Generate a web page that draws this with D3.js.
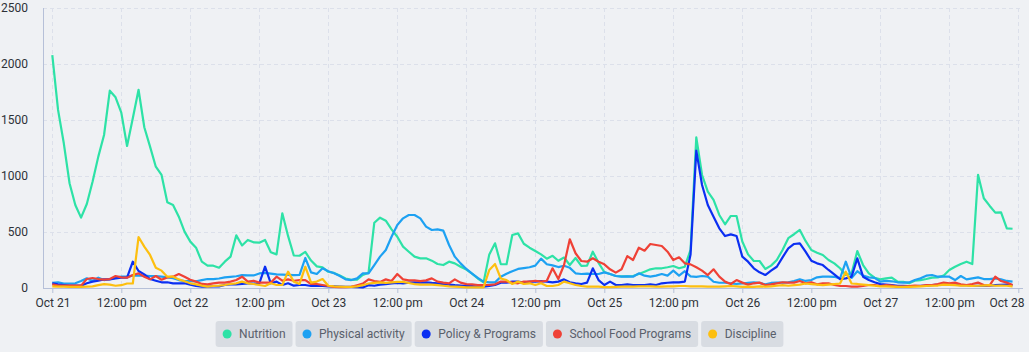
<!DOCTYPE html>
<html><head><meta charset="utf-8">
<script src="https://cdn.jsdelivr.net/npm/d3@7"></script>
<style>
html,body{margin:0;padding:0;background:#eff1f4;}
svg{display:block;font-family:Roboto,"Noto Sans",sans-serif;}
</style></head><body>
<svg id="chart" width="1029" height="352"></svg>
<script>
const seriesNames = ["Nutrition", "Physical activity", "Policy & Programs", "School Food Programs", "Discipline"];
const seriesColors = ["#2de2a6", "#1da1f2", "#0b2ff2", "#ef4136", "#fdbf0f"];

const nutrition = [
 2080,1590,1292,935,741,628,750,949,1173,1366,1762,1703,1566,1268,1515,1770,1435,1262,1083,1009,765,741,637,503,
 414,360,235,199,199,181,235,280,470,380,429,408,405,429,319,300,667,465,290,288,322,245,193,184,
 145,135,112,85,72,75,116,137,583,628,601,524,458,369,324,280,265,265,244,214,205,235,220,190,
 165,128,85,50,300,399,212,212,473,488,395,360,330,300,262,287,243,272,205,268,198,200,324,225,
 143,125,107,104,104,107,125,146,167,176,176,185,196,176,190,340,1345,1009,860,786,652,569,643,643,
 415,300,241,241,170,200,250,339,445,480,518,420,339,315,295,250,220,176,116,130,330,205,131,92,
 77,86,92,56,55,42,65,71,80,92,95,110,161,190,214,235,214,1010,801,735,673,675,533,529];
const physicalActivity = [
 47,51,40,40,42,62,87,62,92,71,78,92,101,101,110,110,110,107,107,101,95,87,71,62,
 62,60,70,80,80,85,95,100,105,115,112,112,130,135,128,122,120,117,115,118,268,140,125,176,
 150,131,107,77,71,86,131,131,205,280,339,458,563,622,652,652,622,548,518,524,512,384,280,220,
 170,128,90,57,50,50,101,128,150,170,178,185,200,262,212,202,187,199,180,131,125,128,125,125,
 140,125,107,101,104,101,131,110,101,110,125,110,155,110,150,104,100,107,101,56,47,47,42,36,
 40,45,51,45,33,45,48,48,50,63,78,63,71,95,101,101,100,86,235,90,150,110,95,90,
 57,63,60,51,48,50,71,86,110,116,101,101,101,71,107,77,86,95,80,80,86,77,63,57];
const policyPrograms = [
 42,33,27,21,21,21,42,57,65,77,77,86,92,92,235,152,122,80,65,51,51,42,42,42,
 30,18,12,12,15,15,27,33,33,36,42,40,42,190,42,57,27,42,21,27,27,18,18,18,
 15,15,12,10,10,8,5,25,20,30,35,40,45,42,48,50,48,50,45,42,35,30,25,22,
 18,18,12,12,18,27,48,48,57,57,48,57,57,62,57,51,57,77,51,42,36,48,176,71,
 27,57,27,27,33,27,27,27,33,27,42,47,51,51,57,300,1226,920,741,637,533,464,479,464,
 280,235,176,140,116,155,190,274,354,393,399,324,244,220,205,161,122,80,86,101,265,101,71,51,
 35,30,25,20,20,18,18,20,22,25,30,40,35,30,25,25,20,20,18,20,25,28,30,25];
const schoolFood = [
 33,21,21,21,21,21,80,89,80,74,80,107,95,92,116,131,101,77,107,74,95,101,125,101,
 74,57,36,33,42,48,48,57,71,101,57,65,48,48,48,101,65,77,65,71,71,36,36,27,
 18,10,8,8,10,24,39,77,62,54,77,62,125,77,68,68,62,68,86,57,48,42,77,48,
 35,33,27,27,27,33,57,57,48,42,57,57,65,57,65,176,80,205,435,310,241,235,265,235,
 211,167,137,167,285,250,360,333,393,384,375,324,250,274,220,211,185,155,116,167,101,57,36,71,
 48,30,42,48,27,33,42,51,48,48,62,42,51,33,42,42,27,18,18,12,12,18,27,27,
 18,27,22,12,12,18,22,18,27,27,36,48,42,48,33,27,36,48,27,21,101,62,48,27];
const discipline = [
 15,12,12,10,10,10,12,15,25,35,30,20,25,40,40,455,370,295,181,155,101,101,77,60,
 42,33,21,12,18,21,27,36,42,57,42,36,27,18,42,27,27,146,57,36,190,48,57,80,
 20,15,12,10,10,15,25,40,45,50,45,50,55,55,45,35,30,30,30,25,20,15,12,10,
 6,6,6,6,161,214,85,71,36,57,36,42,27,42,18,18,27,57,42,27,18,12,12,12,
 8,8,10,12,12,12,15,15,15,12,12,15,15,18,18,15,15,15,12,12,12,15,18,15,
 10,12,10,15,12,15,20,25,20,25,30,40,35,30,25,30,35,40,146,40,36,30,25,20,
 15,15,12,10,10,10,12,15,18,20,22,30,28,25,20,20,18,20,22,25,20,22,20,15];

const yTickValues = [0, 500, 1000, 1500, 2000, 2500];
const xTickLabels = ["Oct 21","12:00 pm","Oct 22","12:00 pm","Oct 23","12:00 pm","Oct 24","12:00 pm",
                     "Oct 25","12:00 pm","Oct 26","12:00 pm","Oct 27","12:00 pm","Oct 28"];
const startDate = new Date(2024, 9, 21, 0, 0, 0);
const endDate = new Date(2024, 9, 28, 0, 0, 0);

const allSeries = [nutrition, physicalActivity, policyPrograms, schoolFood, discipline];

const svg = d3.select("#chart");
const W = 1029, H = 352;
const axisLeftX = 43, axisRightX = 1023, plotTop = 8, plotBottom = 288;

const x = d3.scaleTime().domain([startDate, endDate]).range([52.3, 1018.3]);
const y = d3.scaleLinear().domain([0, 2500]).range([plotBottom, plotTop]);

const xTicks = d3.timeHour.every(12).range(startDate, d3.timeHour.offset(endDate, 1));

// grid
const grid = svg.append("g");
grid.selectAll("line.h").data(yTickValues.filter(v => v > 0)).join("line")
  .attr("x1", axisLeftX).attr("x2", axisRightX)
  .attr("y1", d => y(d) + 0.5).attr("y2", d => y(d) + 0.5)
  .attr("stroke", "#dce0ea").attr("stroke-dasharray", "4,3").attr("stroke-width", 1);
grid.selectAll("line.v").data(xTicks).join("line")
  .attr("x1", d => Math.round(x(d)) + 0.5).attr("x2", d => Math.round(x(d)) + 0.5)
  .attr("y1", plotTop).attr("y2", plotBottom)
  .attr("stroke", "#dce0ea").attr("stroke-dasharray", "4,3").attr("stroke-width", 1);

// axes lines
svg.append("line").attr("x1", axisLeftX + 0.5).attr("x2", axisLeftX + 0.5)
  .attr("y1", plotTop).attr("y2", plotBottom + 1).attr("stroke", "#b6c0d8");
svg.append("line").attr("x1", axisLeftX).attr("x2", axisRightX)
  .attr("y1", plotBottom + 0.5).attr("y2", plotBottom + 0.5).attr("stroke", "#b6c0d8");

// y axis
const yAxis = svg.append("g").attr("transform", `translate(${axisLeftX},0)`)
  .call(d3.axisLeft(y).tickValues(yTickValues).tickSize(0).tickPadding(15).tickFormat(d3.format("d")));
yAxis.select(".domain").remove();
yAxis.selectAll("text").attr("font-size", 12).attr("fill", "#2e3138").attr("font-family", "Roboto, sans-serif");

// x axis
const xAxis = svg.append("g").attr("transform", `translate(0,${plotBottom})`)
  .call(d3.axisBottom(x).tickValues(xTicks).tickSize(5).tickPadding(5)
    .tickFormat((d, i) => xTickLabels[i]));
xAxis.select(".domain").remove();
xAxis.selectAll(".tick line").attr("stroke", "#b6c0d8");
xAxis.selectAll("text").attr("font-size", 12).attr("fill", "#2e3138").attr("font-family", "Roboto, sans-serif");
const xTexts = xAxis.selectAll("text").nodes();
d3.select(xTexts[0]).attr("text-anchor", "start").attr("dx", 35 - x(xTicks[0]));
d3.select(xTexts[xTexts.length - 1]).attr("text-anchor", "end").attr("dx", 1024 - x(xTicks[xTicks.length - 1]));

// lines
const line = d3.line()
  .x((d, i) => x(d3.timeHour.offset(startDate, i)))
  .y(d => y(d));
svg.append("g").selectAll("path").data(allSeries).join("path")
  .attr("d", d => line(d))
  .attr("fill", "none")
  .attr("stroke", (d, i) => seriesColors[i])
  .attr("stroke-width", 2.2)
  .attr("stroke-linejoin", "round");

// legend
const legend = svg.append("g");
const chipH = 26, chipY = 321, gap = 3;
let cx = 0;
const chips = [];
seriesNames.forEach((name, i) => {
  const g = legend.append("g");
  const rect = g.append("rect").attr("y", chipY).attr("height", chipH).attr("rx", 3)
    .attr("fill", "#d8dce2");
  g.append("circle").attr("cy", chipY + chipH / 2).attr("r", 4.5).attr("fill", seriesColors[i]);
  const t = g.append("text").attr("y", chipY + chipH / 2 + 4).attr("font-size", 12)
    .attr("fill", "#5a606b").attr("font-family", "Roboto, sans-serif").text(name);
  const tw = t.node().getComputedTextLength();
  const w = 23.5 + tw + 7;
  chips.push({g, rect, t, w});
});
const totalW = d3.sum(chips, c => c.w) + gap * (chips.length - 1);
cx = 499.5 - totalW / 2;
chips.forEach(c => {
  c.rect.attr("x", cx).attr("width", c.w);
  c.g.select("circle").attr("cx", cx + 11.5);
  c.t.attr("x", cx + 23.5);
  cx += c.w + gap;
});
</script>
</body></html>
